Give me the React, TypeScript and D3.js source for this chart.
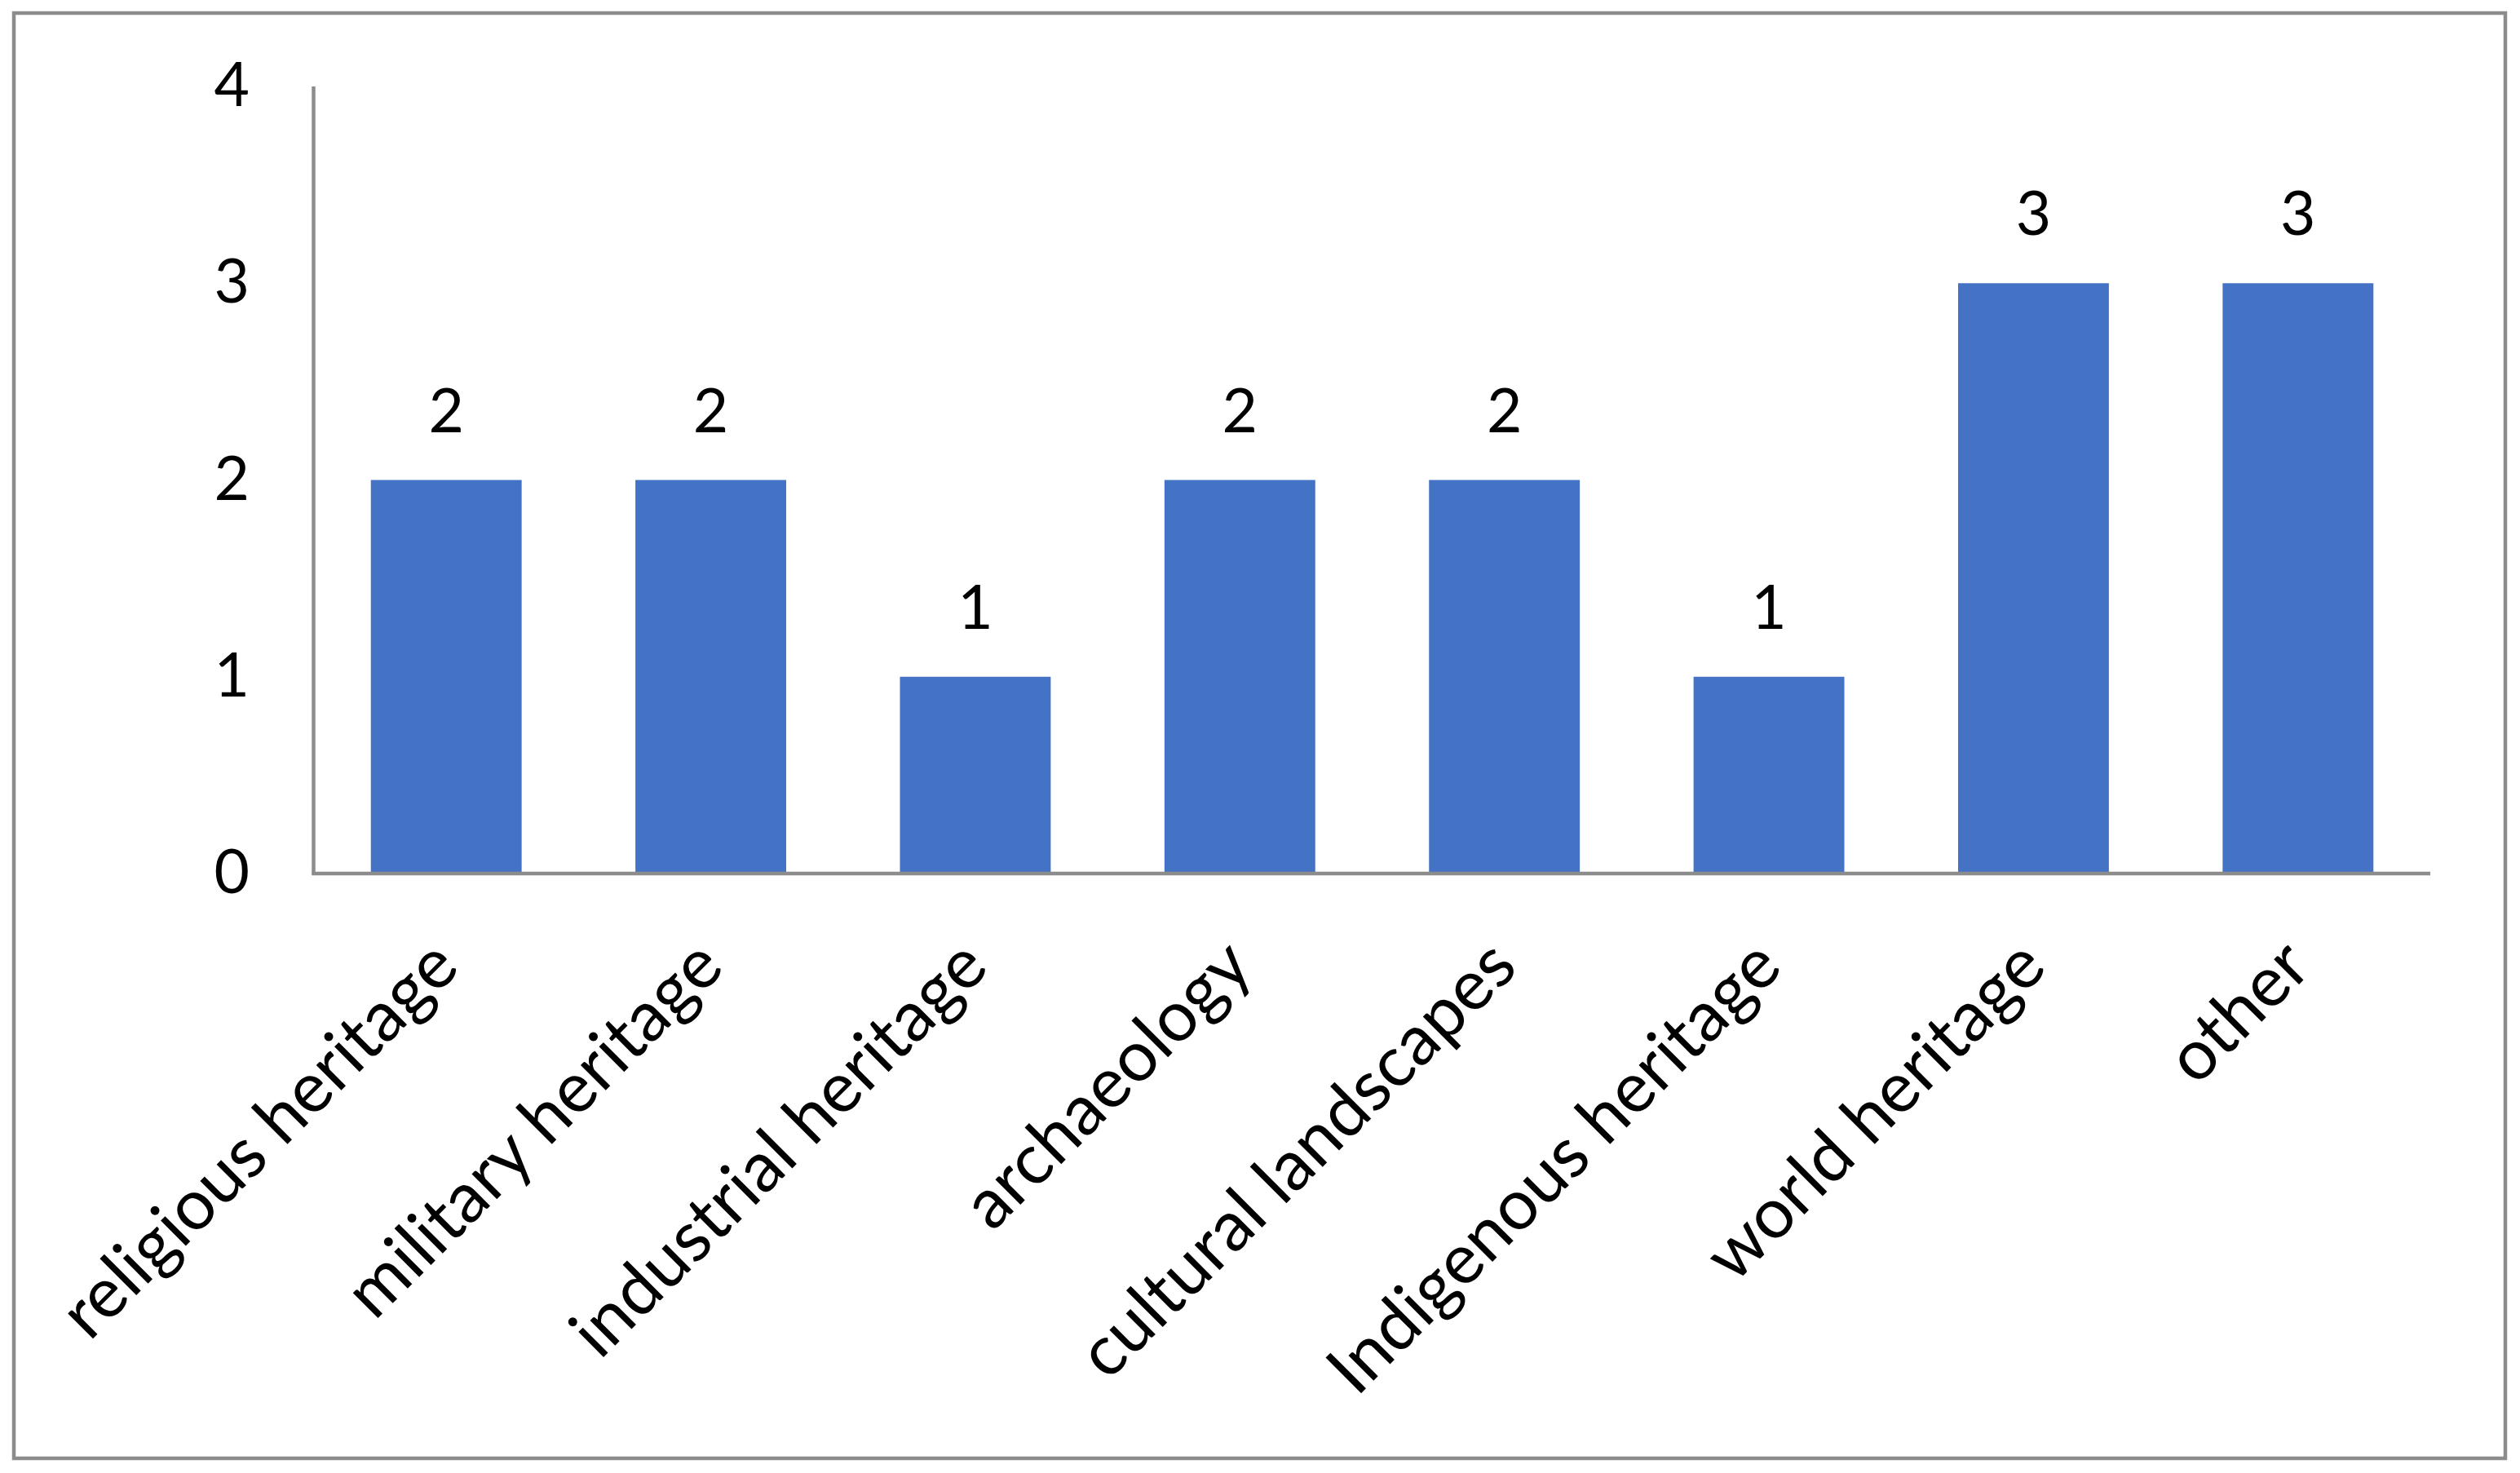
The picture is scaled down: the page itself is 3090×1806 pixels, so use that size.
import React from "react";
import * as d3 from "d3";

const categories = [
  "religious heritage",
  "military heritage",
  "industrial heritage",
  "archaeology",
  "cultural landscapes",
  "Indigenous heritage",
  "world heritage",
  "other",
];
const values = [2, 2, 1, 2, 2, 1, 3, 3];
const yTicks = [0, 1, 2, 3, 4];

const W = 3090;
const H = 1806;
const plotLeft = 385;
const plotRight = 2980;
const plotTop = 106;
const plotBottom = 1071;
const axisColor = "#8c8c8c";
const barColor = "#4472C4";
const font = "Lato, 'Open Sans', sans-serif";

export default function App() {
  const x = d3
    .scaleBand<string>()
    .domain(categories)
    .range([plotLeft, plotRight])
    .paddingInner(0.43)
    .paddingOuter(0.215);
  const y = d3.scaleLinear().domain([0, 4]).range([plotBottom, plotTop]);

  return (
    <svg
      width={W}
      height={H}
      style={{ position: "absolute", left: 0, top: 0, background: "#fff" }}
      fontFamily={font}
    >
      <rect x={0} y={0} width={W} height={H} fill="#fff" />
      <rect
        x={17}
        y={16}
        width={3055}
        height={1772}
        fill="none"
        stroke={axisColor}
        strokeWidth={4.5}
      />
      {/* bars */}
      {categories.map((c, i) => (
        <rect
          key={c}
          x={x(c)}
          y={y(values[i])}
          width={x.bandwidth()}
          height={y(0) - y(values[i])}
          fill={barColor}
        />
      ))}
      {/* axes */}
      <line
        x1={plotLeft - 0.5}
        y1={plotTop}
        x2={plotLeft - 0.5}
        y2={plotBottom + 2}
        stroke={axisColor}
        strokeWidth={4.5}
      />
      <line
        x1={plotLeft - 2.5}
        y1={plotBottom}
        x2={plotRight}
        y2={plotBottom}
        stroke={axisColor}
        strokeWidth={4.5}
      />
      {/* y tick labels */}
      {yTicks.map((t) => (
        <text
          key={t}
          x={306}
          y={y(t) + 24}
          textAnchor="end"
          fontSize={75}
          fill="#000"
        >
          {t}
        </text>
      ))}
      {/* data labels */}
      {categories.map((c, i) => (
        <text
          key={c}
          x={(x(c) as number) + x.bandwidth() / 2}
          y={y(values[i]) - 59}
          textAnchor="middle"
          fontSize={75}
          fill="#000"
        >
          {values[i]}
        </text>
      ))}
      {/* category labels */}
      {categories.map((c) => {
        const cx = (x(c) as number) + x.bandwidth() / 2;
        return (
          <text
            key={c}
            transform={`translate(${cx + 19},${plotBottom + 118}) rotate(-45)`}
            textAnchor="end"
            fontSize={86}
            fill="#000"
          >
            {c}
          </text>
        );
      })}
    </svg>
  );
}
